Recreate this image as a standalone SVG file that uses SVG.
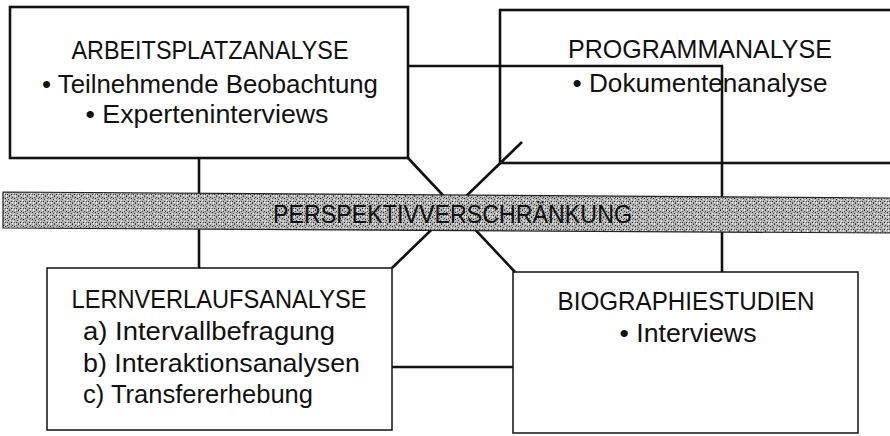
<svg xmlns="http://www.w3.org/2000/svg" width="890" height="436" viewBox="0 0 890 436">
<style>
.box{fill:#fff;stroke:#111}
.thick{stroke-width:2.6}
.thin{stroke-width:1.5}
.con{fill:none;stroke:#111;stroke-width:2.6}
text{font-family:"Liberation Sans","DejaVu Sans",sans-serif;font-size:25px;fill:#111}
.mid{text-anchor:middle}
</style>
<defs>
<pattern id="noise" width="9" height="7" patternUnits="userSpaceOnUse">
<rect width="9" height="7" fill="#b4b4b4"/>
<rect x="0" y="0" width="1" height="1" fill="#333"/>
<rect x="3" y="1" width="1" height="1" fill="#444"/>
<rect x="6" y="0" width="1" height="1" fill="#eee"/>
<rect x="1" y="3" width="1" height="1" fill="#eee"/>
<rect x="5" y="2" width="1" height="1" fill="#222"/>
<rect x="8" y="3" width="1" height="1" fill="#444"/>
<rect x="2" y="5" width="1" height="1" fill="#222"/>
<rect x="4" y="4" width="1" height="1" fill="#fff"/>
<rect x="7" y="5" width="1" height="1" fill="#333"/>
<rect x="6" y="6" width="1" height="1" fill="#eee"/>
<rect x="0" y="6" width="1" height="1" fill="#555"/>
<rect x="3" y="6" width="1" height="1" fill="#fff"/>
<rect x="7" y="1" width="1" height="1" fill="#555"/>
<rect x="2" y="2" width="1" height="1" fill="#666"/>
<rect x="5" y="5" width="1" height="1" fill="#555"/>
</pattern>
</defs>
<g id="arbeitsplatzanalyse">
<rect class="box thick" x="10" y="7" width="398" height="151"/>
<text class="mid" x="210" y="59" textLength="277" lengthAdjust="spacingAndGlyphs">ARBEITSPLATZANALYSE</text>
<text class="mid" x="210" y="93" textLength="336" lengthAdjust="spacingAndGlyphs">• Teilnehmende Beobachtung</text>
<text class="mid" x="207" y="123" textLength="243" lengthAdjust="spacingAndGlyphs">• Experteninterviews</text>
</g>
<g id="programmanalyse">
<rect class="box thick" x="500" y="10" width="400" height="153"/>
<text class="mid" x="700" y="58" textLength="264" lengthAdjust="spacingAndGlyphs">PROGRAMMANALYSE</text>
<text class="mid" x="700" y="92" textLength="255" lengthAdjust="spacingAndGlyphs">• Dokumentenanalyse</text>
</g>
<g id="lernverlaufsanalyse">
<rect class="box thin" x="47" y="268" width="345" height="162"/>
<text class="mid" x="219" y="308" textLength="295" lengthAdjust="spacingAndGlyphs">LERNVERLAUFSANALYSE</text>
<text x="83" y="340" textLength="252" lengthAdjust="spacingAndGlyphs">a) Intervallbefragung</text>
<text x="83" y="372" textLength="277" lengthAdjust="spacingAndGlyphs">b) Interaktionsanalysen</text>
<text x="83" y="403" textLength="230" lengthAdjust="spacingAndGlyphs">c) Transfererhebung</text>
</g>
<g id="biographiestudien">
<rect class="box thin" x="513" y="272" width="345" height="161"/>
<text class="mid" x="686" y="310" textLength="257" lengthAdjust="spacingAndGlyphs">BIOGRAPHIESTUDIEN</text>
<text class="mid" x="688" y="342" textLength="137" lengthAdjust="spacingAndGlyphs">• Interviews</text>
</g>
<g id="connectors">
<path class="con" d="M199,158 V268"/>
<path class="con" d="M408,66 H722 V272"/>
<path class="con" d="M408,158 L515,272"/>
<path class="con" d="M522,142 L392,268"/>
<path class="con" d="M392,367 H513"/>
</g>
<g id="perspektivverschraenkung">
<polygon points="3,192 892,198 892,233 3,228" fill="url(#noise)" stroke="#222" stroke-width="1.2"/>
<text x="273" y="223" textLength="359" lengthAdjust="spacingAndGlyphs">PERSPEKTIVVERSCHRÄNKUNG</text>
</g>
</svg>
